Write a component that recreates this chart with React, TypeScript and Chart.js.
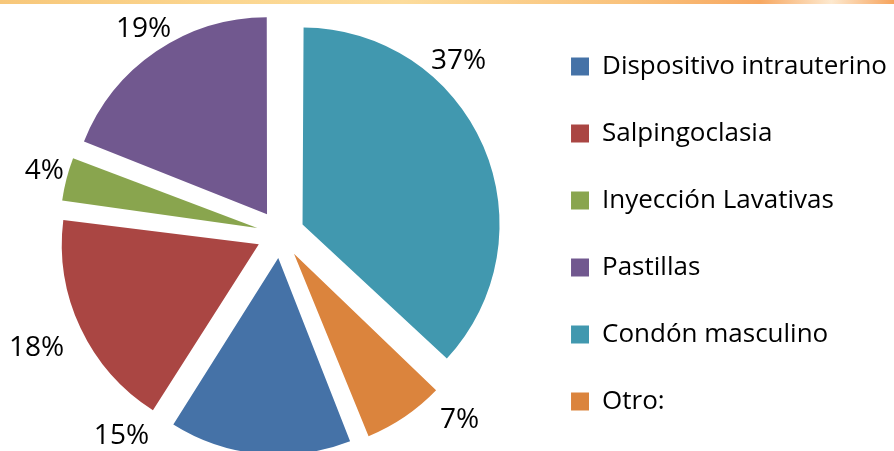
import React, { useEffect, useRef } from "react";
import { Chart, registerables } from "chart.js";

Chart.register(...registerables);

// ---- data ----
const categories = [
  "Dispositivo intrauterino",
  "Salpingoclasia",
  "Inyección Lavativas",
  "Pastillas",
  "Condón masculino",
  "Otro:",
];
const values = [15, 18, 4, 19, 37, 7];
const colors = ["#4572A7", "#AA4643", "#89A54E", "#71588F", "#4198AF", "#DB843D"];

// ---- label placement (style): angular nudge from slice mid-angle (deg), distance as multiple of radius ----
const labelShiftDeg = [33.1, 0.5, 1, 0.7, -21.1, -10];
const labelDistRatio = [1.297, 1.363, 1.243, 1.26, 1.267, 1.303];

const RADIUS = 197;
const EXPLODE_PX = 24; // outward translation of each slice
const CW = 894;
const CH = 468;
const FONT = "'Open Sans', Lato, sans-serif";

const total = values.reduce((a, b) => a + b, 0);
// first slice drawn so that "Condón masculino" starts at 12 o'clock
const topIndex = 4;
const rotation = 360 - (values.slice(0, topIndex).reduce((a, b) => a + b, 0) / total) * 360;

const explodeFix = {
  id: "explodeFix",
  beforeDatasetsDraw(chart: any) {
    const meta = chart.getDatasetMeta(0);
    meta.data.forEach((el: any) => {
      const off = (el.options.offset || 0) / 4;
      const fix = 1 - Math.sin(Math.min(Math.PI, el.circumference || 0));
      el.outerRadius = RADIUS - off * fix;
    });
  },
};

const pctLabels = {
  id: "pctLabels",
  afterDatasetsDraw(chart: any) {
    const meta = chart.getDatasetMeta(0);
    const ctx = chart.ctx;
    ctx.save();
    ctx.font = `28px ${FONT}`;
    ctx.fillStyle = "#000";
    ctx.textAlign = "center";
    ctx.textBaseline = "alphabetic";
    meta.data.forEach((el: any, i: number) => {
      const { x, y, startAngle, endAngle } = el;
      const a = (startAngle + endAngle) / 2 + (labelShiftDeg[i] * Math.PI) / 180;
      const r = RADIUS * labelDistRatio[i];
      const txt = Math.round((values[i] / total) * 100) + "%";
      ctx.fillText(txt, x + Math.cos(a) * r, y + Math.sin(a) * r + 10);
    });
    ctx.restore();
  },
};

export default function App() {
  const ref = useRef<HTMLCanvasElement | null>(null);
  useEffect(() => {
    if (!ref.current) return;
    const chart = new Chart(ref.current, {
      type: "pie",
      data: {
        labels: categories,
        datasets: [
          {
            data: values,
            backgroundColor: colors,
            borderWidth: 0,
            offset: EXPLODE_PX * 4,
            radius: RADIUS,
          } as any,
        ],
      },
      options: {
        animation: false,
        responsive: false,
        maintainAspectRatio: false,
        rotation,
        layout: { padding: { left: 31, right: -3, top: 0, bottom: 0 } },
        plugins: {
          tooltip: { enabled: false },
          legend: {
            position: "right",
            align: "center",
            labels: {
              boxWidth: 18,
              boxHeight: 18,
              padding: 41,
              color: "#000",
              font: { family: FONT, size: 26 },
            },
          },
        },
      } as any,
      plugins: [explodeFix, pctLabels],
    });
    return () => chart.destroy();
  }, []);

  return (
    <div
      style={{
        position: "absolute",
        left: 0,
        top: 0,
        width: 894,
        height: 451,
        overflow: "hidden",
        background: "#fff",
      }}
    >
      <canvas ref={ref} width={CW} height={CH} style={{ display: "block" }} />
      <div
        style={{
          position: "absolute",
          left: 0,
          top: 0,
          width: 894,
          height: 4,
          background:
            "linear-gradient(90deg, #f7c77a 0%, #fbd690 25%, #fcdc9c 45%, #f9c27c 70%, #f7a862 85%, #fde9cf 93%, #f6a35c 100%)",
        }}
      />
    </div>
  );
}
